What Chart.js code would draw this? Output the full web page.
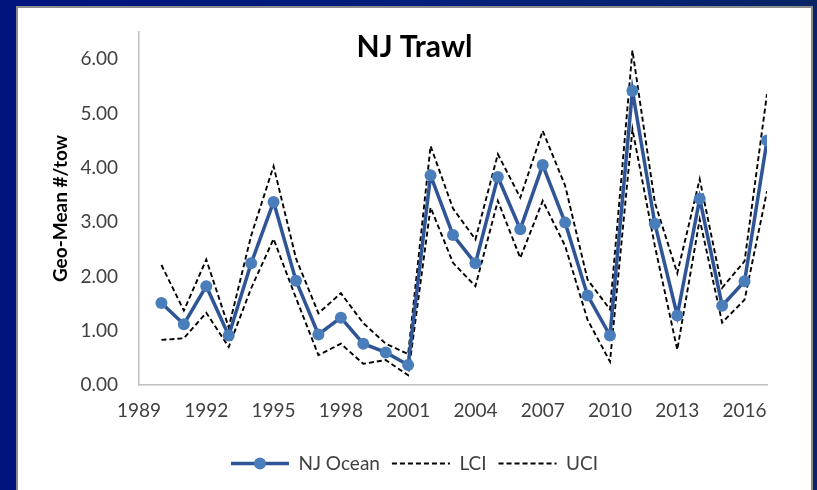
<!DOCTYPE html>
<html>
<head>
<meta charset="utf-8">
<script src="https://cdn.jsdelivr.net/npm/chart.js@4"></script>
<style>
  html, body { margin: 0; padding: 0; }
  body {
    width: 817px; height: 490px; overflow: hidden; position: relative;
    background: linear-gradient(90deg, #00137f 0%, #04207a 60%, #0a2466 100%);
  }
  #panel {
    position: absolute; left: 16px; top: 6px;
    width: 793px; height: 500px;
    background: #fff;
    border: 2px solid #8c8c8c; border-bottom: none;
  }
  #chart { display: block; }
</style>
</head>
<body>
<div id="panel"><canvas id="chart" width="793" height="482"></canvas></div>
<script>
// data
const years = [1990, 1991, 1992, 1993, 1994, 1995, 1996, 1997, 1998, 1999,
               2000, 2001, 2002, 2003, 2004, 2005, 2006, 2007, 2008, 2009,
               2010, 2011, 2012, 2013, 2014, 2015, 2016, 2017];
const njOcean = [1.51, 1.12, 1.82, 0.91, 2.24, 3.37, 1.92, 0.93, 1.24, 0.76,
                 0.60, 0.37, 3.86, 2.76, 2.24, 3.83, 2.87, 4.05, 2.99, 1.65,
                 0.91, 5.42, 2.97, 1.28, 3.43, 1.46, 1.91, 4.50];
const lci = [0.83, 0.86, 1.33, 0.70, 1.78, 2.69, 1.60, 0.55, 0.76, 0.39,
             0.46, 0.18, 3.27, 2.25, 1.82, 3.39, 2.34, 3.39, 2.56, 1.20,
             0.43, 4.71, 2.56, 0.65, 3.05, 1.15, 1.57, 3.57];
const uci = [2.21, 1.37, 2.31, 1.06, 2.75, 4.03, 2.33, 1.32, 1.69, 1.14,
             0.76, 0.57, 4.40, 3.25, 2.68, 4.25, 3.45, 4.68, 3.67, 1.94,
             1.39, 6.16, 3.36, 2.06, 3.79, 1.79, 2.28, 5.36];
const xTickYears = [1989, 1992, 1995, 1998, 2001, 2004, 2007, 2010, 2013, 2016];
const yTicks = [0, 1, 2, 3, 4, 5, 6];

const FONT = "Lato, 'Liberation Sans', sans-serif";

// draws the round marker in the middle of the first legend sample
const legendMarker = {
  id: 'legendMarker',
  afterDraw(chart) {
    const lg = chart.legend;
    if (!lg || !lg.legendHitBoxes.length) return;
    const hb = lg.legendHitBoxes[0];
    const bw = lg.options.labels.pointStyleWidth;
    const ctx = chart.ctx;
    ctx.save();
    ctx.beginPath();
    ctx.arc(hb.left + bw / 2, hb.top + hb.height / 2, 6, 0, Math.PI * 2);
    ctx.fillStyle = '#4a7ebb';
    ctx.fill();
    ctx.restore();
  }
};

new Chart(document.getElementById('chart'), {
  type: 'line',
  data: {
    labels: years,
    datasets: [{
      label: 'NJ Ocean',
      data: njOcean,
      borderColor: '#2f5597',
      backgroundColor: '#4a7ebb',
      borderWidth: 3.5,
      pointRadius: 6,
      pointBorderWidth: 0,
      pointBackgroundColor: '#4a7ebb',
      tension: 0,
      order: 0
    }, {
      label: 'LCI',
      data: lci,
      borderColor: '#000',
      borderWidth: 1.9,
      borderDash: [5, 3],
      pointRadius: 0,
      tension: 0,
      order: 1
    }, {
      label: 'UCI',
      data: uci,
      borderColor: '#000',
      borderWidth: 1.9,
      borderDash: [5, 3],
      pointRadius: 0,
      tension: 0,
      order: 2
    }]
  },
  options: {
    responsive: false,
    animation: false,
    layout: { padding: { left: 0, right: 0, top: 0, bottom: 7 } },
    scales: {
      x: {
        type: 'linear',
        min: 1989,
        max: 2017,
        afterBuildTicks: (axis) => { axis.ticks = xTickYears.map(v => ({ value: v })); },
        afterFit: (scale) => {
          scale.height = 57;
          scale.paddingLeft = 0;
          scale.paddingRight = 44;
        },
        grid: { display: false, drawTicks: false },
        border: { display: true, color: '#bfbfbf', width: 1.5 },
        ticks: {
          color: '#404040',
          font: { family: FONT, size: 19 },
          padding: 14,
          maxRotation: 0,
          autoSkip: false,
          callback: (v) => String(v)
        }
      },
      y: {
        min: 0,
        max: 6.5,
        afterBuildTicks: (axis) => { axis.ticks = yTicks.map(v => ({ value: v })); },
        afterFit: (scale) => {
          scale.width = 121;
          scale.paddingTop = 0;
          scale.paddingBottom = 0;
        },
        grid: { display: false, drawTicks: false },
        border: { display: true, color: '#bfbfbf', width: 1.5 },
        ticks: {
          color: '#404040',
          font: { family: FONT, size: 19 },
          padding: 21,
          callback: (v) => v.toFixed(2)
        },
        title: {
          display: true,
          text: 'Geo-Mean #/tow',
          color: '#000',
          font: { family: FONT, size: 19, weight: 'bold' },
          padding: { top: 31, bottom: 0 }
        }
      }
    },
    plugins: {
      title: {
        display: true,
        text: 'NJ Trawl',
        color: '#000',
        font: { family: FONT, size: 30, weight: 'bold' },
        padding: { top: 21, bottom: -33 }
      },
      legend: {
        position: 'bottom',
        labels: {
          color: '#404040',
          font: { family: FONT, size: 19 },
          usePointStyle: true,
          pointStyle: 'line',
          pointStyleWidth: 58,
          boxHeight: 19,
          padding: 12,
          generateLabels: (chart) => chart.data.datasets.map((ds, i) => ({
            text: ds.label,
            datasetIndex: i,
            pointStyle: 'line',
            strokeStyle: ds.borderColor,
            fillStyle: ds.borderColor,
            lineWidth: ds.borderWidth,
            lineDash: ds.borderDash || [],
            fontColor: '#404040'
          }))
        }
      },
      tooltip: { enabled: false }
    }
  },
  plugins: [legendMarker]
});
</script>
</body>
</html>
